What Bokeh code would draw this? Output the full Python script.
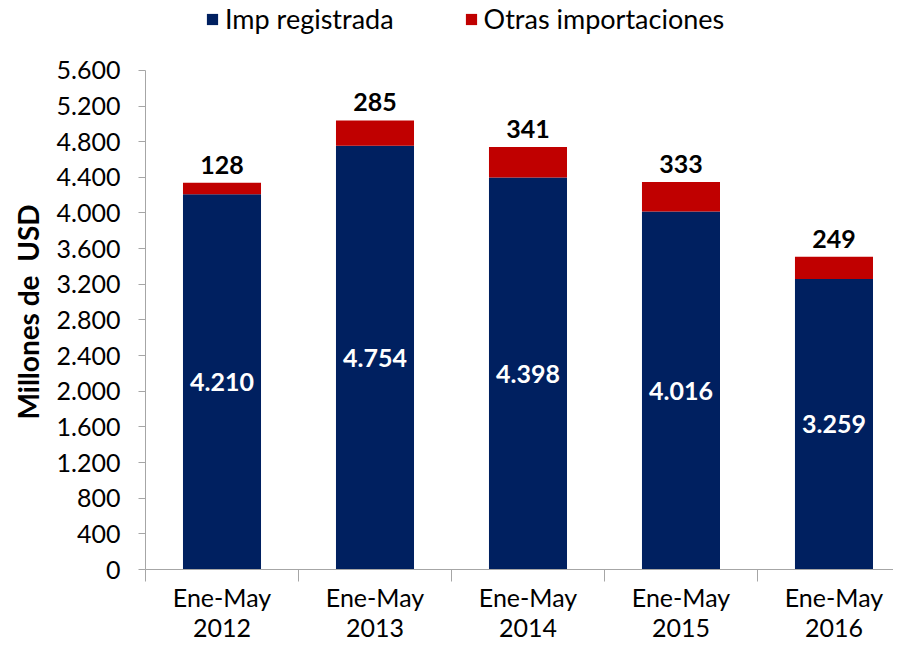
from bokeh.plotting import figure
from bokeh.models import ColumnDataSource, FixedTicker, Legend, LegendItem, Range1d, Title
from bokeh.core.properties import value
from bokeh.embed import file_html
from bokeh.resources import INLINE

# ---- data ----
categories = ["Ene-May\n2012", "Ene-May\n2013", "Ene-May\n2014", "Ene-May\n2015", "Ene-May\n2016"]
imp_registrada = [4210, 4754, 4398, 4016, 3259]
otras_importaciones = [128, 285, 341, 333, 249]
y_ticks = [0, 400, 800, 1200, 1600, 2000, 2400, 2800, 3200, 3600, 4000, 4400, 4800, 5200, 5600]
y_tick_labels = ["0", "400", "800", "1.200", "1.600", "2.000", "2.400", "2.800", "3.200",
                 "3.600", "4.000", "4.400", "4.800", "5.200", "5.600"]
y_title = "Millones de\u00a0 USD"

NAVY = "#002060"
RED = "#C00000"
GRAY = "#A6A6A6"
FONT = "Lato"

xs = list(range(len(categories)))
totals = [a + b for a, b in zip(imp_registrada, otras_importaciones)]


def fmt(v):
    return f"{v:,}".replace(",", ".")


src = ColumnDataSource(dict(
    x=xs,
    imp=imp_registrada,
    otras=otras_importaciones,
    total=totals,
    mid=[v / 2 for v in imp_registrada],
    imp_lbl=[fmt(v) for v in imp_registrada],
    otras_lbl=[fmt(v) for v in otras_importaciones],
))

W, H = 893, 644
BORDER_BOTTOM = 74
AXIS_TOP_PX = 70          # pixel row where the top of the value axis sits
frame_h = H - BORDER_BOTTOM
y_max = y_ticks[-1]
y_end = y_max * frame_h / (frame_h - AXIS_TOP_PX)   # leave room above the axis for the legend

p = figure(width=W, height=H, output_backend="svg", toolbar_location=None,
           x_range=Range1d(-0.5, 4.389), y_range=Range1d(0, y_end),
           min_border_left=145, min_border_right=0, min_border_top=0,
           min_border_bottom=BORDER_BOTTOM)
p.outline_line_color = None
p.xgrid.visible = False
p.ygrid.visible = False
p.background_fill_color = "white"

bw = 0.51
r1 = p.vbar(x="x", bottom=0, top="imp", width=bw, source=src, fill_color=NAVY, line_color=None)
r2 = p.vbar(x="x", bottom="imp", top="total", width=bw, source=src, fill_color=RED, line_color=None)

p.text(x="x", y="mid", text="imp_lbl", source=src, text_color="white",
       text_font=value(FONT), text_font_style="bold", text_font_size="25px",
       text_align="center", text_baseline="middle")
p.text(x="x", y="total", text="otras_lbl", source=src, text_color="black",
       text_font=value(FONT), text_font_style="bold", text_font_size="25px",
       text_align="center", text_baseline="middle", y_offset=-18)

# y axis
ya = p.yaxis[0]
ya.ticker = FixedTicker(ticks=y_ticks)
ya.bounds = (0, y_max)
ya.major_label_overrides = {t: l for t, l in zip(y_ticks, y_tick_labels)}
ya.major_tick_in = 0
ya.major_tick_out = 7
ya.minor_tick_line_color = None
ya.axis_line_color = GRAY
ya.major_tick_line_color = GRAY
ya.major_label_standoff = 18
ya.major_label_text_font = FONT
ya.major_label_text_font_size = "25px"
ya.major_label_text_color = "black"

# value-axis title, placed along the drawn axis (not the whole frame)
yt = Title(text=y_title, align="left", offset=150,
           text_font=FONT, text_font_style="bold", text_font_size="28px",
           text_color="black", standoff=17)
p.add_layout(yt, "left")

# x axis
xa = p.xaxis[0]
xa.ticker = FixedTicker(ticks=xs, minor_ticks=[i - 0.5 for i in range(len(categories) + 1)])
xa.major_label_overrides = {i: c for i, c in zip(xs, categories)}
xa.major_tick_line_color = None
xa.major_tick_in = 0
xa.major_tick_out = 0
xa.minor_tick_in = 0
xa.minor_tick_out = 12
xa.minor_tick_line_color = GRAY
xa.axis_line_color = GRAY
xa.major_label_standoff = 0
xa.major_label_text_font = FONT
xa.major_label_text_font_size = "25px"
xa.major_label_text_line_height = 1.0
xa.major_label_text_color = "black"

legend = Legend(items=[LegendItem(label="Imp registrada", renderers=[r1]),
                       LegendItem(label="Otras importaciones", renderers=[r2])],
                orientation="horizontal", location=(60, frame_h - 36),
                glyph_width=14, glyph_height=14, label_standoff=6, spacing=70,
                padding=0, margin=0, border_line_color=None, background_fill_alpha=0,
                label_text_font=FONT, label_text_font_size="27px", label_text_color="black")
p.add_layout(legend)

open("out.html", "w").write(file_html(p, INLINE))
